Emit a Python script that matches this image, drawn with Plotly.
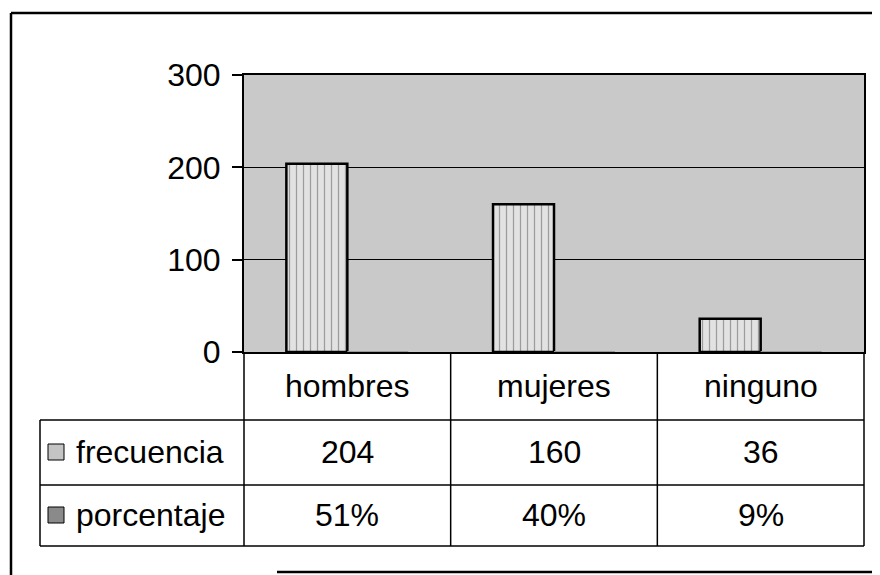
import plotly.graph_objects as go

categories = ["hombres", "mujeres", "ninguno"]
series_names = ["frecuencia", "porcentaje"]
frecuencia = [204, 160, 36]
porcentaje = [0.51, 0.40, 0.09]
y_ticks = [0, 100, 200, 300]

FONT = "Liberation Sans, Arial, sans-serif"

# the page body has an 8px margin, so the figure is drawn 8px smaller and all
# reference pixel positions are shifted by that offset
OFF = 8
W, H = 880 - OFF, 575 - OFF
PL, PR, PT, PB = 244 - OFF, 864 - OFF, 75 - OFF, 352 - OFF
plot_w, plot_h = PR - PL, PB - PT


def px_x(px):
    return (px - OFF - PL) / plot_w


def px_y(py):
    return (PB - (py - OFF)) / plot_h


fig = go.Figure()
fig.add_trace(go.Bar(
    x=categories, y=frecuencia, name=series_names[0],
    marker=dict(color="#e2e2e2", line=dict(color="black", width=2.5),
                pattern=dict(shape="|", fgcolor="#555555", size=7, solidity=0.18)),
))
fig.add_trace(go.Bar(
    x=categories, y=porcentaje, name=series_names[1],
    marker=dict(color="#999999", line=dict(color="black", width=0)),
))

shapes = []
line = dict(color="black", width=1.5)
row_lines = [px_y(420), px_y(485), px_y(546)]
leg_left = px_x(40)
n = len(categories)
# vertical lines of table
for k in range(n + 1):
    shapes.append(dict(type="line", xref="paper", yref="paper", x0=k / n, x1=k / n,
                       y0=0, y1=row_lines[-1], line=line))
for yl in row_lines:
    shapes.append(dict(type="line", xref="paper", yref="paper", x0=leg_left, x1=1,
                       y0=yl, y1=yl, line=line))
shapes.append(dict(type="line", xref="paper", yref="paper", x0=leg_left, x1=leg_left,
                   y0=row_lines[0], y1=row_lines[-1], line=line))

# legend keys
key_fill = ["#c4c4c4", "#8a8a8a"]
row_centers = [px_y(452), px_y(515)]
kh = 16 / plot_h
for i, yc in enumerate(row_centers):
    shapes.append(dict(type="rect", xref="paper", yref="paper", x0=px_x(48), x1=px_x(64),
                       y0=yc - kh / 2, y1=yc + kh / 2, fillcolor=key_fill[i],
                       line=dict(color="black", width=1)))

# outer frame
frame = dict(color="black", width=2.5)
shapes.append(dict(type="line", xref="paper", yref="paper", x0=px_x(11), x1=px_x(11),
                   y0=px_y(13), y1=px_y(580), line=frame))
shapes.append(dict(type="line", xref="paper", yref="paper", x0=px_x(11), x1=px_x(885),
                   y0=px_y(13), y1=px_y(13), line=frame))
shapes.append(dict(type="line", xref="paper", yref="paper", x0=px_x(277), x1=px_x(885),
                   y0=px_y(572), y1=px_y(572), line=frame))

annotations = []
tf = dict(family=FONT, size=32, color="black")
for i, c in enumerate(categories):
    annotations.append(dict(x=i, xref="x", y=px_y(386), yref="paper", text=c,
                            showarrow=False, font=tf, xanchor="center", yanchor="middle"))
    annotations.append(dict(x=i, xref="x", y=row_centers[0], yref="paper", text=str(frecuencia[i]),
                            showarrow=False, font=tf, xanchor="center", yanchor="middle"))
    annotations.append(dict(x=i, xref="x", y=row_centers[1], yref="paper",
                            text=f"{round(porcentaje[i] * 100)}%",
                            showarrow=False, font=tf, xanchor="center", yanchor="middle"))
for i, s in enumerate(series_names):
    annotations.append(dict(x=px_x(74), xref="paper", y=row_centers[i], yref="paper", text=s,
                            showarrow=False, font=tf, xanchor="left", yanchor="middle"))

fig.update_layout(
    width=W, height=H,
    margin=dict(l=PL, r=W - PR, t=PT, b=H - PB, pad=0),
    paper_bgcolor="white", plot_bgcolor="#c9c9c9",
    barmode="group", bargap=0.41, bargroupgap=0,
    showlegend=False,
    font=dict(family=FONT, color="black"),
    shapes=shapes, annotations=annotations,
)
fig.update_xaxes(range=[-0.5, n - 0.5], showticklabels=False, ticks="", showgrid=False,
                 showline=True, mirror=True, linecolor="black", linewidth=2, zeroline=False)
fig.update_yaxes(range=[0, 300], tickvals=y_ticks, ticks="outside", ticklen=10,
                 tickcolor="black", tickwidth=1.5, showgrid=True, gridcolor="black",
                 gridwidth=1, showline=True, mirror=True, linecolor="black", linewidth=2,
                 zeroline=False, tickfont=dict(family=FONT, size=32, color="black"),
                 ticklabelstandoff=5)

fig.write_html("out.html")
